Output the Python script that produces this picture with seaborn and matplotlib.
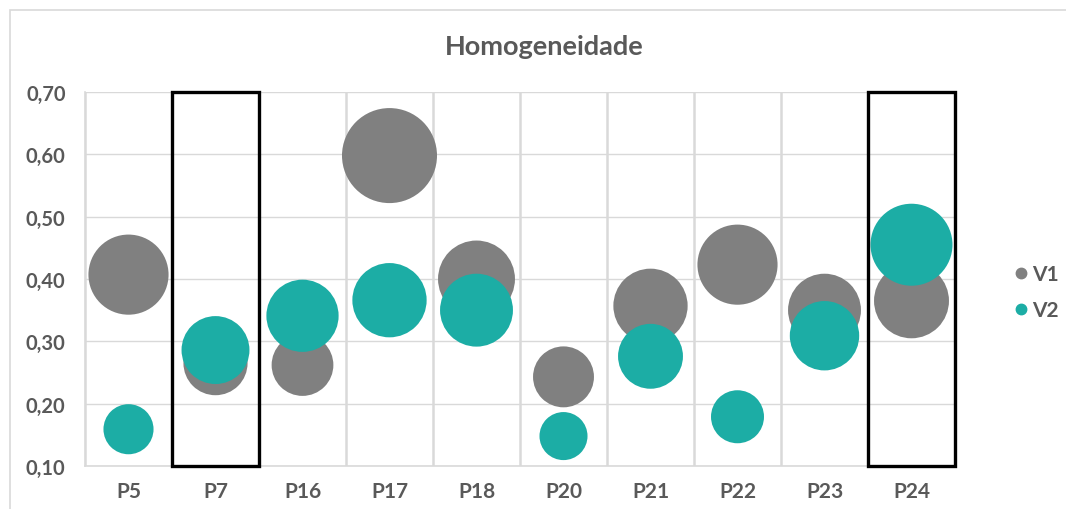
import matplotlib
matplotlib.use("Agg")
import numpy as np
import pandas as pd
import seaborn as sns
import matplotlib.pyplot as plt
from matplotlib.patches import Rectangle
from matplotlib.lines import Line2D
from matplotlib.ticker import FuncFormatter

# dados
categories = ["P5", "P7", "P16", "P17", "P18", "P20", "P21", "P22", "P23", "P24"]
v1 = [0.407, 0.265, 0.262, 0.598, 0.400, 0.243, 0.357, 0.423, 0.350, 0.365]
v2 = [0.159, 0.286, 0.341, 0.366, 0.350, 0.148, 0.276, 0.179, 0.309, 0.455]
# tamanho das bolhas (proporcional à área)
v1_bubble = [64, 41, 38, 90, 59, 37, 55, 64, 53, 56]
v2_bubble = [25, 46, 52, 55, 53, 23, 42, 28, 48, 67]
series = ["V1", "V2"]
highlighted = ["P7", "P24"]

gray = "#808080"
teal = "#1CADA5"
txt = "#595959"
grid = "#D9D9D9"

df = pd.concat([
    pd.DataFrame({"categoria": categories, "valor": v1, "bolha": v1_bubble, "serie": "V1"}),
    pd.DataFrame({"categoria": categories, "valor": v2, "bolha": v2_bubble, "serie": "V2"}),
], ignore_index=True)

sns.set_style("white")
plt.rcParams["font.family"] = ["Lato", "DejaVu Sans"]

fig = plt.figure(figsize=(10.66, 5.10), dpi=100)
ax = fig.add_axes([85 / 1066, 43 / 510, 870 / 1066, 374 / 510])

max_b = max(v1_bubble + v2_bubble)
sns.scatterplot(data=df, x="categoria", y="valor", hue="serie", size="bolha",
                sizes=(0, 52 * max_b), size_norm=(0, max_b),
                palette={"V1": gray, "V2": teal}, linewidth=0, alpha=1,
                legend=False, ax=ax, zorder=3, clip_on=False)

n = len(categories)
ax.set_xlim(-0.5, n - 0.5)
ax.set_ylim(0.1, 0.7)
ax.set_yticks(np.arange(0.1, 0.71, 0.1))
ax.yaxis.set_major_formatter(FuncFormatter(lambda v, p: f"{v:.2f}".replace(".", ",")))
ax.set_xticks(np.arange(-0.5, n, 1), minor=True)

ax.grid(False)
ax.grid(which="minor", axis="x", color=grid, lw=1.8)
ax.grid(which="major", axis="y", color=grid, lw=1.0)
ax.set_axisbelow(True)

for s in ["top", "right"]:
    ax.spines[s].set_visible(False)
for s in ["left", "bottom"]:
    ax.spines[s].set_color(grid)
    ax.spines[s].set_linewidth(1.2)

ax.tick_params(axis="x", which="both", length=0, pad=11)
ax.tick_params(axis="y", length=5, color=grid, width=1.2, pad=9)
for lab in ax.get_xticklabels():
    lab.set_fontweight("bold")
    lab.set_color(txt)
    lab.set_fontsize(15)
for lab in ax.get_yticklabels():
    lab.set_fontweight("bold")
    lab.set_color(txt)
    lab.set_fontsize(14.5)
ax.set_xlabel("")
ax.set_ylabel("")

# caixas de destaque
for c in highlighted:
    i = categories.index(c)
    ax.add_patch(Rectangle((i - 0.5, 0.1), 1, 0.6, fill=False, ec="black",
                           lw=2.4, zorder=5, clip_on=False))

fig.text(0.511, 1 - 47 / 510, "Homogeneidade", ha="center", va="center",
         fontsize=19.5, fontweight="bold", color=txt)

handles = [Line2D([], [], marker="o", ls="", color=c, markersize=7.5)
           for c in [gray, teal]]
leg = fig.legend(handles, series, loc="center left", bbox_to_anchor=(0.93, 0.4255),
                 frameon=False, handletextpad=0.05, labelspacing=0.75,
                 prop={"weight": "bold", "size": 15}, handlelength=1.0)
for t in leg.get_texts():
    t.set_color(txt)

# borda do gráfico
fig.patches.append(Rectangle((10 / 1066, -0.1), 1.1, 1.1 - 11 / 510, transform=fig.transFigure,
                             fill=False, ec=grid, lw=1.2))

fig.savefig("out.png", dpi=100)
